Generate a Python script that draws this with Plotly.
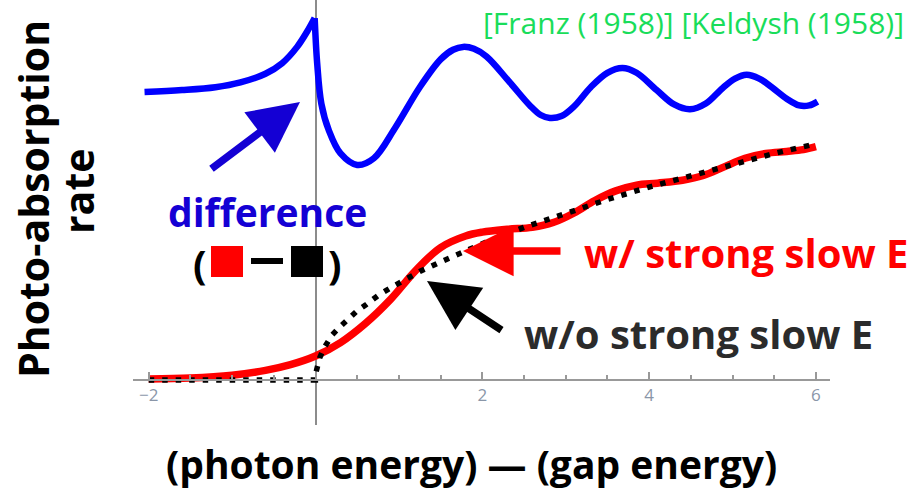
import plotly.graph_objects as go

# Photon energy measured from the band gap (arbitrary units)
black_x = [-2.0, -1.5, -1.0, -0.5, -0.001, 0.0, 0.02, 0.05, 0.1, 0.2, 0.3, 0.4, 0.5, 0.6, 0.75,
           0.9, 1.0, 1.25, 1.5, 1.75, 2.0, 2.5, 3.0, 3.5, 4.0, 4.5, 5.0, 5.5, 6.0]
black_y = [0.0, 0.0, 0.0, 0.0, 0.0, 0.06, 0.15, 0.23, 0.33, 0.47, 0.56, 0.64, 0.72, 0.78, 0.88,
           0.96, 1.01, 1.13, 1.23, 1.33, 1.42, 1.59, 1.74, 1.88, 2.01, 2.13, 2.25, 2.36, 2.46]

red_x = [-2.0, -1.5, -1.0, -0.6, -0.3, 0.0, 0.3, 0.6, 0.9, 1.2, 1.5, 1.8, 2.0, 2.3, 2.6, 2.85,
         3.1, 3.35, 3.6, 3.85, 4.1, 4.4, 4.65, 4.9, 5.15, 5.4, 5.65, 5.85, 6.0]
red_y = [0.01, 0.02, 0.05, 0.10, 0.16, 0.25, 0.39, 0.59, 0.84, 1.14, 1.38, 1.50, 1.54, 1.57, 1.59,
         1.64, 1.74, 1.87, 1.97, 2.03, 2.05, 2.08, 2.13, 2.22, 2.31, 2.36, 2.38, 2.40, 2.43]

# Difference curve (shifted upward by 3 for display)
blue_left_x = [-2.05, -1.6, -1.2, -0.9, -0.6, -0.4, -0.22, -0.1, -0.01]
blue_left_y = [3.00, 3.02, 3.05, 3.10, 3.19, 3.30, 3.47, 3.63, 3.77]
blue_right_x = [-0.01, 0.02, 0.07, 0.16, 0.3, 0.5, 0.7, 0.95, 1.25, 1.5, 1.65, 1.77, 1.9, 2.05,
                2.33, 2.57, 2.7, 2.81, 2.95, 3.1, 3.3, 3.5, 3.68, 3.85, 4.09, 4.3, 4.49, 4.68,
                4.88, 5.03, 5.17, 5.32, 5.47, 5.65, 5.8, 5.92, 6.02]
blue_right_y = [3.77, 3.30, 2.88, 2.60, 2.36, 2.24, 2.31, 2.62, 3.05, 3.34, 3.44, 3.47, 3.45, 3.37,
                3.10, 2.86, 2.76, 2.73, 2.75, 2.85, 3.05, 3.20, 3.25, 3.20, 3.02, 2.87, 2.82, 2.88,
                3.04, 3.14, 3.18, 3.14, 3.05, 2.93, 2.86, 2.86, 2.90]

tick_vals = [-2, 0, 2, 4, 6]
tick_text = ["\u22122", "", "2", "4", "6"]


# pixel -> data helpers for annotation placement (x: 83.4 px/unit, y: 96 px/unit)
def dx(px):
    return (px - 315.5) / 83.4


def dy(py):
    return (380 - py) / 96.0


fig = go.Figure()
fig.add_trace(go.Scatter(x=red_x, y=red_y, mode="lines",
                         line=dict(color="#ff0000", width=7.5, shape="spline", smoothing=1.0),
                         hoverinfo="skip"))
fig.add_trace(go.Scatter(x=black_x, y=black_y, mode="lines",
                         line=dict(color="#000000", width=5.5, dash="5.5px,8px"), hoverinfo="skip"))
fig.add_trace(go.Scatter(x=blue_left_x, y=blue_left_y, mode="lines",
                         line=dict(color="#0000ff", width=6.5, shape="spline"), hoverinfo="skip"))
fig.add_trace(go.Scatter(x=blue_right_x, y=blue_right_y, mode="lines",
                         line=dict(color="#0000ff", width=6.5, shape="spline", smoothing=1.0),
                         hoverinfo="skip"))

face = "Open Sans"


def label(px, py, text, size, color, angle=0):
    return dict(xref="paper", yref="paper", x=(px - 133) / 697, y=(425 - py) / 425,
                xanchor="center", yanchor="middle", text=text, textangle=angle,
                showarrow=False, font=dict(family=face, size=size, color=color))


def arrow(tip_px, tip_py, tail_px, tail_py, color):
    return dict(x=dx(tip_px), y=dy(tip_py), ax=tail_px - tip_px, ay=tail_py - tip_py, text="",
                showarrow=True, arrowhead=2, arrowsize=1.35, arrowwidth=7.5,
                arrowcolor=color, standoff=0)


ann = [
    arrow(300, 102, 210, 170, "#1400d4"),
    arrow(463, 251, 562, 251, "#ff0000"),
    arrow(427, 281, 503, 331, "#000000"),
    label(267, 212, "<b>difference</b>", 39, "#1400d4"),
    label(200, 264, "<b>(</b>", 40, "#000000"),
    label(335, 264, "<b>)</b>", 40, "#000000"),
    label(746, 252, "<b>w/ strong slow E</b>", 40, "#ff0000"),
    label(698, 333, "<b>w/o strong slow E</b>", 40, "#2b2b2b"),
    dict(xref="paper", yref="paper", x=(693 - 133) / 697, y=1.0, xanchor="center", yanchor="top",
         text="[Franz (1958)] [Keldysh (1958)]", showarrow=False,
         font=dict(family=face, size=30, color="#19dd5a")),
    label(33, 199, "<b>Photo-absorption</b>", 41, "#000000", -90),
    label(78, 192, "<b>rate</b>", 41, "#000000", -90),
    label(471, 463, "<b>(photon energy) \u2014 (gap energy)</b>", 39, "#000000"),
]

shapes = [
    dict(type="rect", x0=dx(211), x1=dx(243), y0=dy(277), y1=dy(246), fillcolor="#ff0000", line_width=0),
    dict(type="rect", x0=dx(291), x1=dx(323), y0=dy(277), y1=dy(246), fillcolor="#000000", line_width=0),
    dict(type="rect", x0=dx(251), x1=dx(283), y0=dy(264), y1=dy(258), fillcolor="#000000", line_width=0),
]

fig.update_layout(
    width=911, height=491,
    margin=dict(l=133, r=81, t=0, b=66),
    paper_bgcolor="white", plot_bgcolor="white",
    showlegend=False,
    annotations=ann,
    shapes=shapes,
    xaxis=dict(range=[dx(133), dx(830)], anchor="free", position=45 / 425,
               showline=True, linecolor="#999999", linewidth=2,
               zeroline=True, zerolinecolor="#8c8c8c", zerolinewidth=2,
               showgrid=False, tickmode="array", tickvals=tick_vals, ticktext=tick_text,
               ticks="inside", ticklen=7, tickwidth=1.5, tickcolor="#999999",
               minor=dict(tickmode="linear", tick0=-2, dtick=0.5, ticks="inside", ticklen=4,
                          tickwidth=1.5, tickcolor="#999999"),
               tickfont=dict(family="Open Sans", size=17, color="#8a96a8")),
    yaxis=dict(range=[dy(425), dy(0)], visible=False, showgrid=False, zeroline=False),
)

fig.write_html("out.html")
